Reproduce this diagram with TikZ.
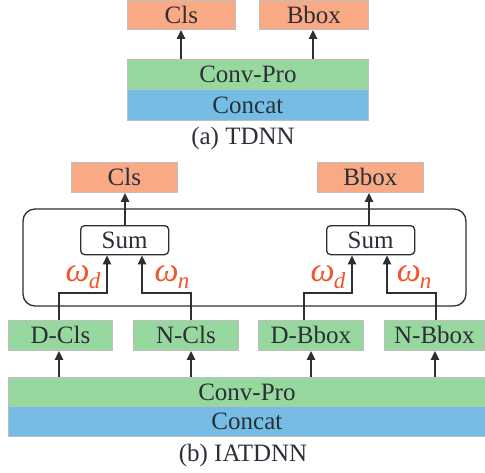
\documentclass[tikz,border=0pt]{standalone}
\usepackage{fontspec}
\setmainfont{Liberation Serif}
\usetikzlibrary{arrows.meta}
\definecolor{orng}{HTML}{F9AA85}
\definecolor{grn}{HTML}{96D89E}
\definecolor{blu}{HTML}{76BDE6}
\definecolor{omg}{HTML}{F2552B}
\definecolor{ln}{HTML}{2B2F36}
\newcommand{\wgt}[1]{\fontsize{34}{36}\selectfont\itshape ω\kern-1pt\raisebox{-0.45ex}{\fontsize{23}{25}\selectfont #1}}
\begin{document}
\begin{tikzpicture}[x=1pt,y=-1pt,
  every node/.style={font=\fontsize{25}{28}\selectfont, text=ln},
  blk/.style={draw=black!25, line width=0.8pt, inner sep=0pt, anchor=north west},
  obox/.style={blk, fill=orng},
  gbox/.style={blk, fill=grn},
  bbox/.style={blk, fill=blu},
  sumbox/.style={draw=ln, line width=1.3pt, rounded corners=4pt, fill=white, inner sep=0pt, anchor=north west},
  arr/.style={draw=ln, line width=2.4pt, -{Triangle[width=8pt,length=9pt]}},
  wlab/.style={text=omg, inner sep=0pt},
  captxt/.style={inner sep=0pt}]
\useasboundingbox (0,0) rectangle (485,472);
\fill[white] (0,0) rectangle (485,472);
% (a) TDNN
\node[obox, minimum width=108pt, minimum height=29pt] (acls) at (127,0) {Cls};
\node[obox, minimum width=109pt, minimum height=29pt] (abbox) at (259,0) {Bbox};
\node[gbox, minimum width=241pt, minimum height=30pt] (aconv) at (127,59) {Conv-Pro};
\node[bbox, minimum width=241pt, minimum height=31pt] (aconc) at (127,89) {Concat};
\node[captxt] (acap) at (243,138) {(a) TDNN};
\draw[arr] (aconv.north -| 181,0) -- (acls.south -| 181,0);
\draw[arr] (aconv.north -| 313,0) -- (abbox.south -| 313,0);
% (b) IATDNN
\node[obox, minimum width=106pt, minimum height=30pt] (bcls) at (71,162) {Cls};
\node[obox, minimum width=106pt, minimum height=30pt] (bbbox) at (317,162) {Bbox};
\draw[draw=ln, line width=1.3pt, rounded corners=12pt] (23,209) rectangle (466,306);
\node[sumbox, minimum width=88pt, minimum height=29pt] (sum1) at (80,225) {Sum};
\node[sumbox, minimum width=88pt, minimum height=29pt] (sum2) at (326,225) {Sum};
\draw[arr] (sum1.north -| 125,0) -- (bcls.south -| 125,0);
\draw[arr] (sum2.north -| 369,0) -- (bbbox.south -| 369,0);
\node[gbox, minimum width=104pt, minimum height=30pt] (dcls) at (8,320) {D-Cls};
\node[gbox, minimum width=105pt, minimum height=30pt] (ncls) at (133,320) {N-Cls};
\node[gbox, minimum width=105pt, minimum height=30pt] (dbbox) at (258,320) {D-Bbox};
\node[gbox, minimum width=100pt, minimum height=30pt] (nbbox) at (384,320) {N-Bbox};
\node[gbox, minimum width=477pt, minimum height=29pt] (bconv) at (8,377) {Conv-Pro};
\node[bbox, minimum width=477pt, minimum height=30pt] (bconc) at (8,406) {Concat};
\node[captxt] (bcap) at (243,455) {(b) IATDNN};
% arrows from Conv-Pro
\draw[arr] (bconv.north -| 59,0) -- (dcls.south -| 59,0);
\draw[arr] (bconv.north -| 191,0) -- (ncls.south -| 191,0);
\draw[arr] (bconv.north -| 311,0) -- (dbbox.south -| 311,0);
\draw[arr] (bconv.north -| 435,0) -- (nbbox.south -| 435,0);
% branches into Sum
\draw[arr] (dcls.north -| 59,0) -- (59,293) -- (107,293) -- (sum1.south -| 107,0);
\draw[arr] (ncls.north -| 191,0) -- (191,293) -- (142,293) -- (sum1.south -| 142,0);
\draw[arr] (dbbox.north -| 304,0) -- (304,293) -- (352,293) -- (sum2.south -| 352,0);
\draw[arr] (nbbox.north -| 436,0) -- (436,293) -- (387,293) -- (sum2.south -| 387,0);
% weights
\node[wlab] (w1) at (83,277) {\wgt{d}};
\node[wlab] (w2) at (172,277) {\wgt{n}};
\node[wlab] (w3) at (328,277) {\wgt{d}};
\node[wlab] (w4) at (414,277) {\wgt{n}};
\end{tikzpicture}
\end{document}
